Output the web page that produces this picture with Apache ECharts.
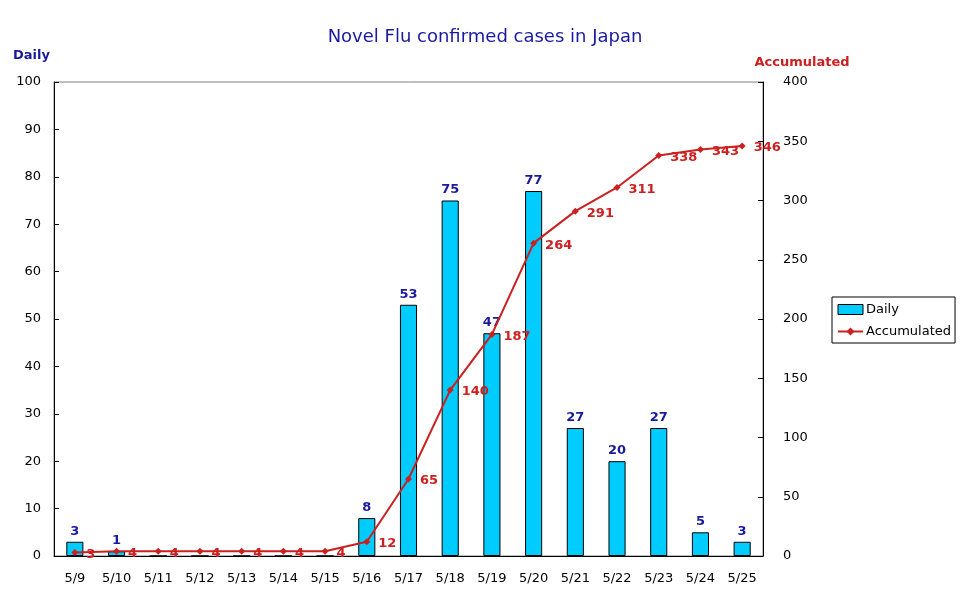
<!DOCTYPE html>
<html>
<head>
    <meta charset="utf-8">
    <title>Novel Flu confirmed cases in Japan</title>
    <script src="https://cdn.jsdelivr.net/npm/echarts@6/dist/echarts.min.js"></script>
    <style>
        html, body { margin: 0; padding: 0; background: #fff; }
        #chart { width: 970px; height: 604px; }
    </style>
</head>
<body>
    <div id="chart"></div>
    <script type="text/javascript">
        var days = ['5/9', '5/10', '5/11', '5/12', '5/13', '5/14', '5/15', '5/16', '5/17',
                    '5/18', '5/19', '5/20', '5/21', '5/22', '5/23', '5/24', '5/25'];
        var daily = [3, 1, 0, 0, 0, 0, 0, 8, 53, 75, 47, 77, 27, 20, 27, 5, 3];
        var accumulated = [3, 4, 4, 4, 4, 4, 4, 12, 65, 140, 187, 264, 291, 311, 338, 343, 346];

        var font = '"DejaVu Sans", Verdana, sans-serif';
        var navy = '#1a1a9c';
        var red = '#cc1f1f';

        var myChart = echarts.init(document.getElementById('chart'));
        var option = {
            animation: false,
            textStyle: { fontFamily: font },
            title: {
                text: 'Novel Flu confirmed cases in Japan',
                left: 'center',
                top: 23,
                textStyle: { color: '#1a1aa0', fontSize: 18, fontWeight: 'normal', fontFamily: font }
            },
            legend: {
                orient: 'vertical',
                left: 832,
                top: 297,
                padding: [6, 4, 5, 5],
                itemGap: 9,
                itemWidth: 25,
                itemHeight: 10,
                borderColor: '#000',
                borderWidth: 1,
                borderRadius: 0,
                textStyle: { color: '#000', fontSize: 13, fontFamily: font, padding: [0, 0, 0, -2] },
                data: [
                    { name: 'Daily', icon: 'rect', itemStyle: { borderWidth: 1 } },
                    { name: 'Accumulated' }
                ]
            },
            grid: {
                left: 54,
                right: 207,
                top: 82,
                bottom: 48,
                show: true,
                borderColor: '#808080',
                borderWidth: 1
            },
            xAxis: {
                type: 'category',
                data: days,
                boundaryGap: true,
                axisLine: { lineStyle: { color: '#000', width: 1 } },
                axisTick: { inside: true, length: 5, lineStyle: { color: '#000' } },
                axisLabel: { color: '#000', fontSize: 13, margin: 16, fontFamily: font }
            },
            yAxis: [{
                type: 'value',
                name: 'Daily',
                nameLocation: 'end',
                nameGap: 20,
                nameTextStyle: { color: navy, fontWeight: 'bold', fontSize: 13, align: 'right', padding: [0, 4, 0, 0] },
                min: 0,
                max: 100,
                interval: 10,
                axisLine: { show: true, lineStyle: { color: '#000' } },
                axisTick: { show: true, inside: true, length: 5, lineStyle: { color: '#000' } },
                axisLabel: { color: '#000', fontSize: 13, margin: 13, fontFamily: font },
                splitLine: { show: false }
            }, {
                type: 'value',
                name: 'Accumulated',
                nameLocation: 'end',
                nameGap: 13,
                nameTextStyle: { color: red, fontWeight: 'bold', fontSize: 13, align: 'center', padding: [0, 0, 0, 78] },
                min: 0,
                max: 400,
                interval: 50,
                axisLine: { show: true, lineStyle: { color: '#000' } },
                axisTick: { show: true, inside: true, length: 5, lineStyle: { color: '#000' } },
                axisLabel: { color: '#000', fontSize: 13, margin: 20, fontFamily: font },
                splitLine: { show: false }
            }],
            series: [{
                name: 'Daily',
                type: 'bar',
                data: daily,
                barWidth: '41%',
                itemStyle: { color: '#00ccff', borderColor: '#000', borderWidth: 1 },
                label: {
                    show: true,
                    position: 'top',
                    distance: 4,
                    color: navy,
                    fontWeight: 'bold',
                    fontSize: 13,
                    formatter: function (p) { return p.value ? p.value : ''; }
                }
            }, {
                name: 'Accumulated',
                type: 'line',
                yAxisIndex: 1,
                data: accumulated,
                symbol: 'diamond',
                symbolSize: 7,
                lineStyle: { color: red, width: 2 },
                itemStyle: { color: red },
                label: {
                    show: true,
                    position: 'right',
                    distance: 8,
                    offset: [0, 2],
                    color: red,
                    fontWeight: 'bold',
                    fontSize: 13
                }
            }]
        };
        myChart.setOption(option);
    </script>
</body>
</html>
